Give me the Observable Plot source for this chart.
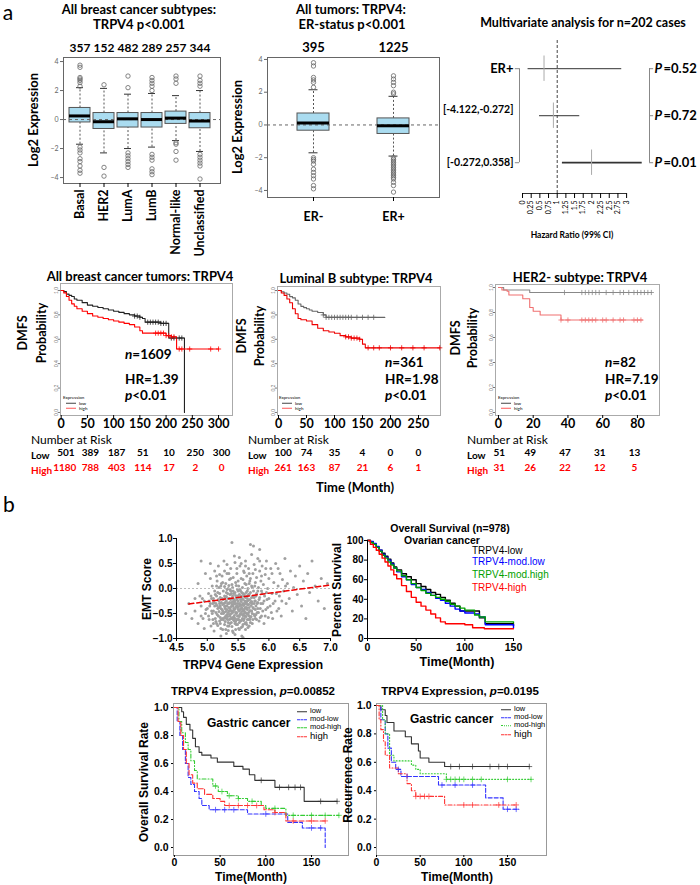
<!DOCTYPE html>
<html><head><meta charset="utf-8">
<script src="https://cdn.jsdelivr.net/npm/d3@7"></script>
<script src="https://cdn.jsdelivr.net/npm/@observablehq/plot@0.6"></script>
<style>
body{margin:0;background:#fff;}
#root{position:relative;width:700px;height:885px;overflow:hidden;background:#fff;}
.t{position:absolute;white-space:nowrap;line-height:1;}
.lg{display:inline-block;width:10px;height:0;vertical-align:middle;margin-right:3px;}
</style></head><body><div id="root"></div>
<script>
// ---------------- DATA ----------------
// Panel a1: subtypes boxplot
const subtypes = ["Basal","HER2","LumA","LumB","Normal-like","Unclassified"];
const subtypeN = [357,152,482,289,257,344];
const subQ1  = [-0.2,-0.65,-0.55,-0.55,-0.3,-0.6];
const subMed = [0.25,-0.15,0.05,0.0,0.1,-0.1];
const subQ3  = [0.8,0.45,0.45,0.45,0.55,0.45];
const subLo  = [-1.7,-2.3,-2.0,-1.9,-1.45,-2.2];
const subHi  = [2.2,2.15,1.75,1.8,1.65,2.0];
const subOut = [
  [3.75,3.6,2.9,2.8,2.7,2.55,2.3,-1.9,-2.1,-2.3,-2.7,-2.9,-3.2,-3.5,-3.7],
  [2.4,-3.3,-3.9],
  [3.0,2.2,-2.3,-2.5,-2.7,-2.9,-3.1,-3.3],
  [2.9,2.7,2.5,2.3,2.0,-2.4,-2.6,-2.8,-3.4,-3.6,-3.8],
  [3.0,2.8,2.5,-1.6,-1.7,-2.2,-2.8],
  [3.0,2.7,2.5,2.3,-2.4,-2.6,-2.8,-3.0,-3.2,-4.1]
];
// Panel a2: ER status boxplot
const erGroups = ["ER-","ER+"];
const erN   = [395,1225];
const erQ1  = [-0.35,-0.55];
const erMed = [0.12,-0.05];
const erQ3  = [0.7,0.4];
const erLo  = [-1.7,-1.9];
const erHi  = [2.15,1.75];
const erOut = [
  [3.8,3.6,2.9,2.75,2.6,2.3,-2.0,-2.1,-2.2,-2.4,-2.7,-2.9,-3.1,-3.3,-3.7,-3.9],
  [3.0,2.8,2.6,2.4,2.0,1.9,-2.0,-2.1,-2.2,-2.3,-2.4,-2.5,-2.6,-2.7,-2.8,-2.9,-3.0,-3.1,-3.2,-3.3,-3.5,-3.7,-4.1]
];
// Panel a3: forest plot
const forestRows = ["ER+","[-4.122,-0.272]","[-0.272,0.358]"];
const forestHR = [0.62,0.89,1.99];
const forestLo = [0.16,0.49,1.15];
const forestHi = [2.86,1.65,3.45];
const forestP  = ["0.52","0.72","0.01"];
const forestTicks = [0,0.25,0.5,0.75,1,1.25,1.5,1.75,2,2.25,2.5,2.75,3];
// KM 1: all breast cancer
const km1LowT = [0,5,10,15,20,25,30,40,50,60,70,80,90,100,110,120,130,140,150,155,160,190,205,235];
const km1LowS = [1,0.99,0.97,0.96,0.95,0.93,0.92,0.90,0.88,0.87,0.86,0.85,0.84,0.83,0.82,0.81,0.80,0.79,0.78,0.77,0.74,0.73,0.61,0];
const km1HighT = [0,5,10,15,20,25,30,40,50,60,70,80,90,100,110,120,130,140,150,155,200,210,220,300];
const km1HighS = [1,0.98,0.95,0.92,0.89,0.87,0.85,0.83,0.81,0.79,0.78,0.77,0.76,0.75,0.74,0.73,0.72,0.70,0.67,0.65,0.63,0.62,0.52,0.52];
const km1LowCens = [140,145,150,165,170,175,180,185,190,195,200,210,215,225,230];
const km1HighCens = [180,185,190,195,200,205,210,215,225,230,245,285,300];
const km1RiskT = [0,50,100,150,200,250,300];
const km1RiskLow = [501,389,187,51,10,250,300];
const km1RiskHigh = [1180,788,403,114,17,2,0];
// KM 2: luminal B
const km2LowT = [0,5,10,15,20,25,30,35,40,45,50,55,60,70,80,85,190];
const km2LowS = [1,0.99,0.98,0.97,0.95,0.94,0.92,0.89,0.87,0.86,0.85,0.84,0.83,0.82,0.80,0.78,0.78];
const km2HighT = [0,5,10,15,20,25,30,35,40,50,60,70,80,90,100,110,120,130,145,150,155,288];
const km2HighS = [1,0.98,0.96,0.93,0.90,0.85,0.81,0.77,0.76,0.75,0.72,0.69,0.67,0.66,0.65,0.63,0.62,0.61,0.60,0.56,0.53,0.53];
const km2LowCens = [80,85,90,95,100,105,110,115,120,125,130,140,150,160,170];
const km2HighCens = [120,125,130,135,140,145,160,170,180,200,220,240,260,288];
const km2RiskT = [0,50,100,150,200,250];
const km2RiskLow = [100,74,35,4,0,0];
const km2RiskHigh = [261,163,87,21,6,1];
// KM 3: HER2-
const km3LowT = [0,3,18,88];
const km3LowS = [1,0.98,0.96,0.96];
const km3HighT = [0,2,5,6,14,18,20,24,36,83];
const km3HighS = [1,0.98,0.97,0.94,0.91,0.84,0.81,0.78,0.74,0.74];
const km3LowCens = [38,48,50,52,54,56,58,62,66,70,72,75,78,80,82,84,86,88];
const km3HighCens = [36,40,48,50,52,54,56,60,62,66,70,72,78,80,82];
const km3RiskT = [0,20,40,60,80];
const km3RiskLow = [51,49,47,31,13];
const km3RiskHigh = [31,26,22,12,5];
// Panel b: EMT scatter [expression, EMT score]
const emtPoints = [
[4.65,-0.5],[4.7,-0.3],[4.75,-0.6],[4.8,-0.2],[4.8,-0.45],[4.85,-0.7],[4.85,0.1],[4.9,-0.35],[4.9,-0.55],[4.9,0.55],[4.88,-0.15],[4.95,-0.8],[4.95,-0.25],[4.97,0.3],[4.97,-0.5],
[5.00,-0.40],[5.02,-0.10],[5.03,-0.62],[5.05,0.20],[5.05,-0.30],[5.06,-0.75],[5.08,-0.50],[5.08,0.05],[5.10,-0.20],[5.10,-0.45],[5.11,-0.85],[5.12,0.35],[5.12,-0.05],[5.13,-0.60],[5.14,-0.30],[5.15,-0.15],[5.15,-0.70],[5.16,0.15],[5.17,-0.40],[5.18,-0.55],[5.18,0.45],[5.19,-0.25],[5.20,-0.10],[5.20,-0.65],[5.21,-0.35],[5.22,0.05],[5.22,-0.80],[5.23,-0.50],[5.24,-0.20],[5.24,0.25],[5.25,-0.45],[5.25,-0.60],[5.26,-0.05],[5.27,-0.30],[5.27,0.55],[5.28,-0.72],[5.28,-0.15],[5.29,-0.40],[5.30,0.10],[5.30,-0.55],[5.31,-0.25],[5.31,-0.90],[5.32,-0.35],[5.32,0.30],[5.33,-0.62],[5.33,-0.10],[5.34,-0.48],[5.34,0.00],[5.35,-0.30],[5.35,-0.75],[5.36,0.18],[5.36,-0.20],[5.37,-0.55],[5.37,-0.40],[5.38,0.40],[5.38,-0.05],[5.39,-0.68],[5.39,-0.28],[5.40,-0.45],[5.40,0.08],[5.41,-0.15],[5.41,-0.85],[5.42,-0.35],[5.42,0.22],[5.43,-0.58],[5.43,-0.22],[5.44,-0.42],[5.44,0.65],[5.45,-0.08],[5.45,-0.70],[5.46,-0.30],[5.46,0.12],[5.47,-0.50],[5.47,-0.18],[5.48,-0.62],[5.48,0.30],[5.49,-0.38],[5.49,-0.02],[5.50,-0.55],[5.50,-0.25],[5.51,0.05],[5.51,-0.80],[5.52,-0.45],[5.52,-0.12],[5.53,0.45],[5.53,-0.32],[5.54,-0.65],[5.54,-0.05],[5.55,-0.40],[5.55,0.20],[5.56,-0.20],[5.56,-0.95],[5.57,-0.52],[5.57,0.02],[5.58,-0.30],[5.58,-0.72],[5.59,0.35],[5.59,-0.15],[5.60,-0.45],[5.60,-0.60],[5.61,0.10],[5.61,-0.25],[5.62,-0.38],[5.62,0.55],[5.63,-0.68],[5.63,-0.08],[5.64,-0.50],[5.64,0.25],[5.65,-0.20],[5.65,-0.42],[5.66,0.00],[5.66,-0.78],[5.67,-0.32],[5.67,0.40],[5.68,-0.55],[5.68,-0.12],[5.69,0.15],[5.69,-0.62],[5.70,-0.28],[5.70,0.88],[5.71,-0.45],[5.72,0.05],[5.72,-0.18],[5.73,-0.70],[5.74,0.30],[5.74,-0.38],[5.75,-0.05],[5.76,-0.52],[5.76,0.48],[5.77,-0.25],[5.78,0.12],[5.78,-0.60],[5.79,-0.35],[5.80,0.22],[5.80,-0.10],[5.81,-0.48],[5.82,0.60],[5.82,-0.28],[5.83,0.02],[5.84,-0.65],[5.85,-0.18],[5.85,0.35],[5.86,-0.40],[5.87,0.15],[5.88,-0.55],[5.88,-0.05],[5.89,0.45],[5.90,-0.30],[5.91,0.08],[5.92,-0.70],[5.93,-0.15],[5.94,0.28],[5.95,-0.42],[5.96,0.55],[5.97,-0.22],[5.98,0.00],[5.99,-0.58],[6.00,0.20],[6.02,-0.35],[6.03,0.40],[6.05,-0.10],[6.06,-0.60],[6.08,0.12],[6.10,-0.25],[6.11,0.50],[6.13,-0.45],[6.15,0.05],[6.17,-0.15],[6.18,0.30],[6.20,-0.55],[6.22,0.18],[6.24,-0.05],[6.26,0.60],[6.28,-0.30],[6.30,0.10],[6.33,-0.20],[6.35,0.35],[6.38,-0.45],[6.40,0.02],[6.43,0.25],[6.46,-0.12],[6.50,0.45],[6.53,-0.35],[6.56,0.15],[6.60,-0.60],[6.63,0.30],[6.66,-0.08],[6.70,0.55],[6.75,0.05],[6.80,-0.25],[6.85,0.20],[6.90,-0.40],[6.95,0.10],[5.75,0.85],[5.40,0.92],[5.85,0.78],[5.58,-0.98],[5.22,-0.95],[5.05,0.5],
[5.16,-0.52],[5.19,-0.38],[5.21,-0.58],[5.23,-0.28],[5.26,-0.62],[5.27,-0.48],[5.29,-0.18],[5.30,-0.35],[5.32,-0.52],[5.33,-0.75],[5.35,-0.45],[5.36,-0.62],[5.38,-0.22],[5.39,-0.50],[5.40,-0.32],[5.41,-0.58],[5.42,-0.05],[5.43,-0.40],[5.44,-0.65],[5.45,-0.25],[5.46,-0.48],[5.47,-0.72],[5.48,-0.35],[5.49,-0.15],[5.50,-0.42],[5.51,-0.62],[5.52,-0.30],[5.53,-0.52],[5.54,-0.22],[5.55,-0.78],[5.56,-0.38],[5.57,-0.60],[5.58,-0.10],[5.59,-0.45],[5.60,-0.32],[5.61,-0.55],[5.62,-0.70],[5.63,-0.28],[5.64,-0.38],[5.65,-0.62],[5.24,-0.42],[5.28,-0.58],[5.31,-0.08],[5.34,-0.68],[5.37,-0.12],[5.40,-0.60],[5.43,-0.30],[5.46,-0.82],[5.49,-0.55],[5.52,-0.68],[5.55,-0.15],[5.58,-0.42],[5.61,-0.40],[5.64,-0.15],[5.67,-0.48],[5.70,-0.58],[5.73,-0.30],[5.76,-0.18],[5.79,-0.52],[5.82,-0.40],[5.20,-0.30],[5.18,-0.22],[5.14,-0.48],[5.12,-0.35],[5.09,-0.62],[5.07,-0.20],[5.45,-0.92],[5.50,0.15],[5.35,0.30],[5.60,0.32],[5.25,0.12],[5.70,0.20],[5.15,0.05],[5.55,0.50],[5.42,-0.88],[5.62,-0.82],[5.30,-0.82],[5.68,-0.75],[5.72,-0.45],[5.78,-0.25],
[5.11,-0.28],[5.13,-0.12],[5.14,-0.66],[5.16,-0.34],[5.17,-0.08],[5.17,-0.74],[5.19,-0.46],[5.19,0.02],[5.21,-0.18],[5.21,-0.70],[5.22,-0.40],[5.23,-0.62],[5.23,0.10],[5.25,-0.32],[5.25,-0.82],[5.26,-0.22],[5.26,-0.50],[5.28,-0.36],[5.28,0.04],[5.29,-0.66],[5.29,-0.28],[5.30,-0.46],[5.31,-0.60],[5.31,-0.16],[5.32,-0.42],[5.32,-0.02],[5.33,-0.30],[5.33,-0.56],[5.34,-0.20],[5.34,-0.84],[5.35,-0.38],[5.35,0.06],[5.36,-0.52],[5.36,-0.28],[5.37,-0.70],[5.37,-0.02],[5.38,-0.44],[5.38,-0.60],[5.39,-0.10],[5.39,-0.36],[5.40,-0.76],[5.40,-0.20],[5.41,-0.48],[5.41,0.02],[5.42,-0.62],[5.42,-0.26],[5.43,-0.44],[5.43,-0.10],[5.44,-0.54],[5.44,-0.30],[5.45,-0.40],[5.45,-0.60],[5.46,-0.14],[5.46,-0.66],[5.47,-0.36],[5.47,0.06],[5.48,-0.48],[5.48,-0.22],[5.49,-0.72],[5.49,-0.30],[5.50,-0.62],[5.50,-0.05],[5.51,-0.36],[5.51,-0.18],[5.52,-0.56],[5.52,-0.82],[5.53,-0.42],[5.53,-0.02],[5.54,-0.34],[5.54,-0.50],[5.55,-0.26],[5.55,-0.64],[5.56,-0.46],[5.56,-0.08],[5.57,-0.32],[5.57,-0.76],[5.58,-0.54],[5.58,-0.22],[5.59,-0.64],[5.59,-0.34],[5.60,-0.12],[5.60,-0.50],[5.61,-0.70],[5.61,-0.30],[5.62,-0.48],[5.62,-0.18],[5.63,-0.56],[5.63,0.08],[5.64,-0.26],[5.64,-0.72],[5.65,-0.32],[5.65,-0.05],[5.66,-0.52],[5.66,-0.24],[5.67,-0.62],[5.67,-0.12],[5.68,-0.38],[5.68,0.10],[5.69,-0.44],[5.69,-0.22],[5.70,-0.68],[5.70,-0.08],[5.71,-0.34],[5.71,-0.56],[5.72,-0.26],[5.73,-0.50],[5.73,0.02],[5.74,-0.62],[5.74,-0.16],[5.75,-0.40],[5.76,-0.30],[5.77,-0.55],[5.77,0.05],[5.78,-0.42],[5.79,-0.15],[5.80,-0.62],[5.81,-0.30],[5.82,-0.05],[5.83,-0.48],[5.84,-0.22],[5.86,-0.58],[5.87,-0.30],[5.89,-0.10],[5.90,-0.45],[5.92,-0.25],[5.94,-0.55],[5.96,-0.08],[5.98,-0.38],[6.00,-0.20],[6.04,-0.48],[6.07,-0.30],[6.12,-0.10],[6.16,-0.40],[6.21,-0.25],[6.27,0.05],[5.02,-0.55],[5.04,-0.35],[5.06,-0.15],[5.07,-0.45],[5.09,-0.30],[5.10,-0.70],[5.03,-0.25],[4.98,-0.42],[4.93,-0.60],[4.92,-0.20],[5.15,0.25],[5.28,0.35],[5.38,0.20],[5.48,0.40],[5.58,0.18],[5.68,0.30],[5.78,0.38],[5.88,0.25],[5.95,0.40],[5.45,0.52],[5.62,0.45],[5.32,0.48],[5.20,0.28],[5.85,0.55],[6.05,0.30],[6.15,0.40],[5.52,0.62],[5.72,0.68]
];
const emtFitX = [4.7,7.0];
const emtFitY = [-0.31,0.07];
// Ovarian OS (percent)
const ovT = [0,3,6,9,12,15,18,21,24,27,30,35,40,45,50,55,60,65,70,75,80,85,90,95,100,110,115,121,150];
const ovLow     = [100,98,96,93,90,87,84,81,77,73,70,66,63,60,56,53,50,47,45,42,39,36,33,28,28,28,21,15,13];
const ovModLow  = [100,99,97,94,90,86,83,80,76,72,68,63,60,55,52,50,47,44,41,39,36,33,30,28,26,25,22,14,11];
const ovModHigh = [100,98,96,93,89,85,82,78,75,72,69,64,60,56,52,49,46,44,42,40,38,35,33,31,29,24,22,17,16];
const ovHighT = [0,3,6,9,12,15,18,21,24,27,30,35,40,45,50,55,60,65,70,75,80,90,100,108,120,150];
const ovHigh  = [100,96,93,90,86,82,78,74,70,65,61,54,48,42,37,33,29,25,21,17,15,15,14,11,10,10];
const ovNames = ["TRPV4-low","TRPV4-mod.low","TRPV4-mod.high","TRPV4-high"];
// Gastric 1: overall survival
const g1LowT = [0,5,8,10,13,17,20,23,27,30,40,47,60,65,75,82,88,108,110,140,142,178];
const g1LowS = [1,1,0.97,0.93,0.88,0.84,0.78,0.72,0.68,0.66,0.64,0.61,0.61,0.58,0.56,0.52,0.48,0.48,0.43,0.43,0.33,0.33];
const g1MlT = [0,3,6,9,12,15,18,22,27,30,38,80,122,124,140,164,165];
const g1MlS = [1,0.9,0.8,0.7,0.6,0.5,0.45,0.4,0.35,0.3,0.27,0.24,0.24,0.18,0.14,0.14,0];
const g1MhT = [0,5,8,12,15,18,22,25,42,48,58,70,80,95,100,122,180];
const g1MhS = [1,0.9,0.82,0.75,0.7,0.62,0.55,0.49,0.44,0.4,0.37,0.35,0.33,0.3,0.28,0.23,0.23];
const g1HiT = [0,4,7,10,13,16,20,25,33,42,50,55,98,110,122,165];
const g1HiS = [1,0.9,0.8,0.7,0.6,0.52,0.46,0.42,0.38,0.35,0.33,0.3,0.27,0.25,0.19,0.19];
// Gastric 2: recurrence
const g2LowT = [0,5,10,12,20,33,40,48,50,60,78,175];
const g2LowS = [1,0.97,0.93,0.88,0.82,0.78,0.73,0.68,0.63,0.6,0.57,0.57];
const g2MlT = [0,5,10,13,17,22,28,71,125,145,163];
const g2MlS = [1,0.9,0.8,0.7,0.6,0.55,0.5,0.44,0.35,0.27,0.27];
const g2MhT = [0,7,10,15,20,40,45,50,80,177];
const g2MhS = [1,0.9,0.8,0.65,0.61,0.58,0.55,0.52,0.48,0.48];
const g2HiT = [0,3,5,8,10,15,25,35,40,45,78,160];
const g2HiS = [1,0.9,0.83,0.75,0.65,0.56,0.52,0.45,0.4,0.36,0.3,0.3];
const gNames = ["low","mod-low","mod-high","high"];

// ---------------- HELPERS ----------------
const FA = "Lato, 'Open Sans', sans-serif";
const FB = "'Liberation Sans', Arial, sans-serif";
const root = document.getElementById("root");

function mount(opts, frame, m, font) {
  const [fx0, fy0, fx1, fy1] = frame;
  const [t, r, b, l] = m;
  const svg = Plot.plot({
    ...opts,
    width: fx1 - fx0 + l + r,
    height: fy1 - fy0 + t + b,
    marginTop: t, marginRight: r, marginBottom: b, marginLeft: l,
    style: {fontFamily: font || FA, fontSize: "10px", background: "none", overflow: "visible", maxWidth: "none"}
  });
  svg.style.position = "absolute";
  svg.style.left = (fx0 - l) + "px";
  svg.style.top = (fy0 - t) + "px";
  root.appendChild(svg);
  return svg;
}
function T(html, x, y, o = {}) {
  const d = document.createElement("div");
  d.className = "t";
  d.innerHTML = html;
  const a = o.anchor || "middle";
  const tx = a === "start" ? "0" : a === "end" ? "-100%" : "-50%";
  d.style.left = x + "px"; d.style.top = y + "px";
  d.style.fontFamily = o.font || FA;
  d.style.fontSize = (o.size || 12) + "px";
  d.style.fontWeight = o.weight || "bold";
  d.style.color = o.color || "#000";
  d.style.transform = `translate(${tx},-50%)` + (o.rotate ? ` rotate(${o.rotate}deg)` : "");
  root.appendChild(d);
}
function stepAt(T_, S_, t) { let v = S_[0]; for (let i = 0; i < T_.length; i++) if (T_[i] <= t) v = S_[i]; return v; }
const series = (T_, S_) => T_.map((t, i) => ({t, s: S_[i]}));

// ---------------- BOXPLOTS ----------------
function boxplot(cats, counts, Q1, MED, Q3, LO, HI, OUT, cfg) {
  const rows = cats.map((c, i) => ({c, q1: Q1[i], med: MED[i], q3: Q3[i], lo: LO[i], hi: HI[i]}));
  const pts = cats.flatMap((c, i) => OUT[i].map(v => ({c, v})));
  const ci = cfg.capInset;
  mount({
    x: {type: "band", domain: cats, ...cfg.band},
    y: {domain: cfg.yDom},
    marks: [
      Plot.ruleX(rows, {x: "c", y1: "q3", y2: "hi", stroke: "#555", strokeDasharray: "2,2"}),
      Plot.ruleX(rows, {x: "c", y1: "lo", y2: "q1", stroke: "#555", strokeDasharray: "2,2"}),
      Plot.tickY(rows, {x: "c", y: "hi", stroke: "#333", insetLeft: ci, insetRight: ci}),
      Plot.tickY(rows, {x: "c", y: "lo", stroke: "#333", insetLeft: ci, insetRight: ci}),
      Plot.barY(rows, {x: "c", y1: "q1", y2: "q3", fill: "#aadcf0", stroke: "#555", strokeWidth: 1}),
      Plot.ruleY([0], {stroke: "#666", strokeDasharray: "3,3"}),
      Plot.tickY(rows, {x: "c", y: "med", stroke: "#000", strokeWidth: 3}),
      Plot.dot(pts, {x: "c", y: "v", r: 2.2, stroke: "#666", strokeWidth: 0.8}),
      Plot.frame({stroke: "#666"}),
      Plot.axisY({ticks: [-4, -2, 0, 2, 4], tickSize: 3, tickPadding: 2, fontSize: 7, color: "#666", label: null}),
      Plot.axisX({anchor: "top", tickSize: 0, tickPadding: 6, tickFormat: d => String(counts[cats.indexOf(d)]), fontSize: cfg.nFont, fontWeight: "bold", label: null}),
      Plot.axisX({anchor: "bottom", tickSize: 4, tickPadding: cfg.xPad, tickRotate: cfg.rotate, fontSize: cfg.xFont, fontWeight: "bold", label: null})
    ]
  }, cfg.frame, cfg.margin);
}
boxplot(subtypes, subtypeN, subQ1, subMed, subQ3, subLo, subHi, subOut, {
  band: {padding: 0.14, insetLeft: 0, insetRight: 4.8},
  yDom: [-4.41, 4.28], capInset: 7, xPad: 2, rotate: -90, xFont: 12.5, nFont: 12,
  frame: [63, 57, 220, 183], margin: [20, 5, 50, 20]
});
boxplot(erGroups, erN, erQ1, erMed, erQ3, erLo, erHi, erOut, {
  band: {paddingInner: 0.6, paddingOuter: 0.3, insetLeft: 6, insetRight: 6},
  yDom: [-4.43, 4.12], capInset: 11.5, xPad: 11, rotate: 0, xFont: 12.5, nFont: 13,
  frame: [267, 57, 439, 197], margin: [20, 5, 35, 20]
});

// ---------------- FOREST ----------------
{
  const rows = forestRows.map((r, i) => ({r, i, hr: forestHR[i], lo: forestLo[i], hi: forestHi[i], p: forestP[i]}));
  const xd = [-0.087, 3.66], yd = [-0.6, 2.655];
  mount({
    x: {domain: xd}, y: {domain: yd, reverse: true, axis: null},
    marks: [
      Plot.ruleX([1], {stroke: "#444", strokeDasharray: "3,2"}),
      Plot.ruleY(rows, {y: "i", x1: "lo", x2: "hi", stroke: "#333", strokeWidth: d => d.i === 2 ? 1.8 : 1}),
      Plot.ruleX(rows, {x: "hr", y1: d => d.i - 0.27, y2: d => d.i + 0.27, stroke: "#aaa"}),
      Plot.ruleX([xd[0]], {y1: 0, y2: 2, stroke: "#888"}),
      Plot.ruleY([0, 2], {y: d => d, x1: xd[0], x2: xd[0] - 0.12, stroke: "#888"}),
      Plot.ruleX([xd[1]], {y1: 0, y2: 2, stroke: "#888"}),
      Plot.ruleY([0, 1, 2], {y: d => d, x1: xd[1], x2: xd[1] + 0.12, stroke: "#888"}),
      Plot.text(rows, {filter: d => d.i === 0, x: xd[0], y: "i", text: "r", textAnchor: "end", dx: -6, fontSize: 13, fontWeight: "bold"}),
      Plot.text(rows, {filter: d => d.i === 1, x: xd[0], y: "i", text: "r", textAnchor: "end", dx: -6, dy: -6, fontSize: 10.5, fontWeight: "bold"}),
      Plot.text(rows, {filter: d => d.i === 2, x: xd[0], y: "i", text: "r", textAnchor: "end", dx: -6, fontSize: 10.5, fontWeight: "bold"}),
      Plot.text(rows, {x: xd[1], y: "i", text: () => "P", textAnchor: "start", dx: 5, fontSize: 13, fontWeight: "bold", fontStyle: "italic"}),
      Plot.text(rows, {x: xd[1], y: "i", text: d => "=" + d.p, textAnchor: "start", dx: 14, fontSize: 13, fontWeight: "bold"}),
      Plot.ruleY([yd[1]], {x1: forestTicks[0], x2: forestTicks[forestTicks.length - 1], stroke: "#333"}),
      Plot.axisX({ticks: forestTicks, tickFormat: d => String(d), tickRotate: -90, tickSize: 5, tickPadding: 2, fontSize: 7, label: null})
    ]
  }, [519, 40, 649, 193], [10, 51, 27, 89]);
}

// ---------------- KM (breast) ----------------
function km(c) {
  const low = series(c.lowT, c.lowS), high = series(c.highT, c.highS);
  const lc = c.lowCens.map(t => ({t, s: stepAt(c.lowT, c.lowS, t)}));
  const hc = c.highCens.map(t => ({t, s: stepAt(c.highT, c.highS, t)}));
  const risk = c.riskT.map((t, i) => ({t, lo: String(c.riskLow[i]), hi: String(c.riskHigh[i]), first: i === 0}));
  const rf = 10;
  mount({
    x: {domain: c.xDom}, y: {domain: c.yDom},
    marks: [
      Plot.frame({stroke: "#aaa"}),
      Plot.line(low, {x: "t", y: "s", curve: "step-after", stroke: c.lowColor, strokeWidth: 1.1}),
      Plot.line(high, {x: "t", y: "s", curve: "step-after", stroke: c.highColor, strokeWidth: 1.1}),
      Plot.dot(lc, {x: "t", y: "s", symbol: "plus", r: 1.8, stroke: c.lowColor, strokeWidth: 0.8}),
      Plot.dot(hc, {x: "t", y: "s", symbol: "plus", r: 1.8, stroke: c.highColor, strokeWidth: 0.8}),
      Plot.axisX({ticks: c.xTicks, tickSize: 3, tickPadding: 1, fontSize: 12.5, fontWeight: "bold", label: null}),
      Plot.axisY({ticks: [0, 0.2, 0.4, 0.6, 0.8, 1], tickFormat: d3.format(".1f"), tickSize: 2, tickPadding: 1, tickRotate: -90, fontSize: 5, color: "#777", label: null}),
      Plot.text(risk.filter(d => d.first), {x: "t", text: "lo", frameAnchor: "bottom", dy: 40, dx: c.firstDx, textAnchor: "start", fontSize: rf, fontWeight: "bold"}),
      Plot.text(risk.filter(d => !d.first), {x: "t", text: "lo", frameAnchor: "bottom", dy: 40, dx: c.restDx, fontSize: rf, fontWeight: "bold"}),
      Plot.text(risk.filter(d => d.first), {x: "t", text: "hi", frameAnchor: "bottom", dy: 55, dx: c.firstDx2, textAnchor: "start", fontSize: rf, fontWeight: "bold", fill: "#f00"}),
      Plot.text(risk.filter(d => !d.first), {x: "t", text: "hi", frameAnchor: "bottom", dy: 55, dx: c.restDx, fontSize: rf, fontWeight: "bold", fill: "#f00"})
    ]
  }, c.frame, [4, 6, 62, 12]);
}
km({lowT: km1LowT, lowS: km1LowS, highT: km1HighT, highS: km1HighS, lowCens: km1LowCens, highCens: km1HighCens,
    riskT: km1RiskT, riskLow: km1RiskLow, riskHigh: km1RiskHigh, xDom: [-1.3, 326.6], yDom: [-0.025, 1.057],
    xTicks: [0, 50, 100, 150, 200, 250, 300], lowColor: "#222", highColor: "#f00", frame: [60, 283, 232, 415], firstDx: -4, firstDx2: -8, restDx: 3});
km({lowT: km2LowT, lowS: km2LowS, highT: km2HighT, highS: km2HighS, lowCens: km2LowCens, highCens: km2HighCens,
    riskT: km2RiskT, riskLow: km2RiskLow, riskHigh: km2RiskHigh, xDom: [-1.8, 289.3], yDom: [-0.025, 1.033],
    xTicks: [0, 50, 100, 150, 200, 250], lowColor: "#666", highColor: "#e00", frame: [277, 286, 440, 415], firstDx: -4, firstDx2: -4, restDx: 0});
km({lowT: km3LowT, lowS: km3LowS, highT: km3HighT, highS: km3HighS, lowCens: km3LowCens, highCens: km3HighCens,
    riskT: km3RiskT, riskLow: km3RiskLow, riskHigh: km3RiskHigh, xDom: [-1.7, 92.7], yDom: [-0.024, 1.024],
    xTicks: [0, 20, 40, 60, 80], lowColor: "#888", highColor: "#f07070", frame: [495, 284, 659, 415], firstDx: -5, firstDx2: -5, restDx: -3});

// ---------------- Panel b: scatter ----------------
mount({
  x: {domain: [4.5, 7.0]}, y: {domain: [-1, 1]},
  marks: [
    Plot.dot(emtPoints, {x: d => d[0], y: d => d[1], r: 1.5, fill: "#a0a0a0", stroke: null}),
    Plot.ruleY([0], {stroke: "#bbb", strokeDasharray: "2,2"}),
    Plot.line(emtFitX.map((x, i) => ({x, y: emtFitY[i]})), {x: "x", y: "y", stroke: "#e00", strokeWidth: 1.5, strokeDasharray: "5,3"}),
    Plot.frame({anchor: "left", stroke: "#000"}),
    Plot.frame({anchor: "bottom", stroke: "#000"}),
    Plot.axisX({ticks: [4.5, 5, 5.5, 6, 6.5, 7], tickFormat: d3.format(".1f"), tickSize: 3, tickPadding: 2, fontSize: 10.5, fontWeight: "bold", label: null}),
    Plot.axisY({ticks: [-1, -0.5, 0, 0.5, 1], tickFormat: d3.format(".1f"), tickSize: 3, tickPadding: 1, fontSize: 10, fontWeight: "bold", label: null})
  ]
}, [176, 538, 330, 638], [6, 6, 22, 28], FB);

// Ovarian
{
  const ovColors = ["#000", "#0000ff", "#00a000", "#ff0000"];
  const ovData = [series(ovT, ovLow), series(ovT, ovModLow), series(ovT, ovModHigh), series(ovHighT, ovHigh)];
  mount({
    x: {domain: [0, 150]}, y: {domain: [0, 100]},
    marks: [
      ...ovData.map((d, k) => Plot.line(d, {x: "t", y: "s", curve: "step-after", stroke: ovColors[k], strokeWidth: 1.4})),
      Plot.frame({anchor: "left", stroke: "#000"}),
      Plot.frame({anchor: "bottom", stroke: "#000"}),
      Plot.axisX({ticks: [0, 50, 100, 150], tickSize: 3, tickPadding: 2, fontSize: 10.5, fontWeight: "bold", label: null}),
      Plot.axisY({ticks: [0, 20, 40, 60, 80, 100], tickSize: 3, tickPadding: 1, fontSize: 10, fontWeight: "bold", label: null})
    ]
  }, [367, 540, 513, 638], [6, 6, 22, 28], FB);
  ovNames.forEach((n, k) => T(n, 472, [551, 562, 575, 588][k], {anchor: "start", size: 10, weight: "normal", font: FB, color: ovColors[k]}));
}

// Gastric
const gColors = ["#333", "#3333ff", "#33cc33", "#ff3333"];
function gastric(curves, dashes, frame, xDom, yDom, cens) {
  mount({
    x: {domain: xDom}, y: {domain: yDom},
    marks: [
      Plot.frame({stroke: "#999"}),
      ...curves.map((d, k) => Plot.line(d, {x: "t", y: "s", curve: "step-after", stroke: gColors[k], strokeWidth: 1.1, strokeDasharray: dashes[k]})),
      ...cens.map((cs, k) => Plot.dot(cs.map(t => ({t, s: stepAt(curves[k].map(d => d.t), curves[k].map(d => d.s), t)})),
        {x: "t", y: "s", symbol: "plus", r: 2, stroke: gColors[k], strokeWidth: 0.7})),
      Plot.axisX({ticks: [0, 50, 100, 150], tickSize: 2, tickPadding: 1, fontSize: 10.5, fontWeight: "bold", label: null}),
      Plot.axisY({ticks: [0, 0.2, 0.4, 0.6, 0.8, 1], tickFormat: d3.format(".1f"), tickSize: 2, tickPadding: 3, fontSize: 10.5, fontWeight: "bold", label: null})
    ]
  }, frame, [4, 6, 20, 28], FB);
}
const g1Cens = [[95,115,125,132,138,160,178],[45,55,65,100,150,160],[45,52,60,70,85,110,130,150,165,180],[60,70,80,90,110,130,150,165]];
const g2Cens = [[85,95,110,130,140,150,175],[25,35,75,90,110,150,160],[80,85,90,95,100,110,120,150,177],[45,50,55,60,100,110,140,160]];
gastric([series(g1LowT, g1LowS), series(g1MlT, g1MlS), series(g1MhT, g1MhS), series(g1HiT, g1HiS)],
  [null, "4,2", "4,2,1,2", "5,2"], [173, 703, 348, 855], [-1, 190.5], [-0.057, 1.029], g1Cens);
gastric([series(g2LowT, g2LowS), series(g2MlT, g2MlS), series(g2MhT, g2MhS), series(g2HiT, g2HiS)],
  [null, "4,2", "1,2", "4,2,1,2"], [376, 703, 546, 855], [0, 194.7], [-0.056, 1.014], g2Cens);

// ---------------- TEXT ----------------
T("a", 8, 11, {size: 21, weight: "normal"});
T("All breast cancer subtypes:", 139, 9, {size: 13});
T("TRPV4 p&lt;0.001", 139, 24, {size: 13});
T("Log2 Expression", 33, 120, {size: 13, rotate: -90});
T("All tumors: TRPV4:", 351, 9, {size: 13});
T("ER-status p&lt;0.001", 352, 24, {size: 13});
T("Log2 Expression", 237, 127, {size: 13, rotate: -90});
T("Multivariate analysis for n=202 cases", 583, 23, {size: 12.5});
T("Hazard Ratio (99% CI)", 572, 235, {size: 8.5});

const kmText = [
  {title: "All breast cancer tumors: TRPV4", tx: 140, ty: 276, d: 23, p: 42, ly: 333, nx: 125, n: "1609", hr: "1.39", rx: 31, rl: 63},
  {title: "Luminal B subtype: TRPV4", tx: 356, ty: 278, d: 242, p: 260, ly: 336, nx: 385, n: "361", hr: "1.98", rx: 248, rl: 279},
  {title: "HER2- subtype: TRPV4", tx: 580, ty: 277, d: 456, p: 473, ly: 338, nx: 605, n: "82", hr: "7.19", rx: 467, rl: 498}
];
kmText.forEach((k, i) => {
  T(k.title, k.tx, k.ty, {size: 13});
  T("DMFS", k.d, k.ly, {size: 12.5, rotate: -90});
  T("Probability", k.p, k.ly, {size: 12.5, rotate: -90});
  T("<i>n</i>=" + k.n, k.nx, i === 0 ? 355 : 363, {anchor: "start", size: 13.5});
  T("HR=" + k.hr, k.nx, 380, {anchor: "start", size: 13.5});
  T("<i>p</i>&lt;0.01", k.nx, 396, {anchor: "start", size: 13.5});
  T("Number at Risk", k.rx, 440, {anchor: "start", size: 12, weight: "normal"});
  T("Low", k.rx, 455, {anchor: "start", size: 10});
  T("High", k.rx, 470, {anchor: "start", size: 10, color: "#f00"});
  T("Expression", k.rl, 398, {anchor: "start", size: 4.5, weight: "normal"});
  T('<span class="lg" style="border-top:1px solid #444"></span>low', k.rl + 3, 404, {anchor: "start", size: 4.5, weight: "normal"});
  T('<span class="lg" style="border-top:1px solid #f55"></span>high', k.rl + 3, 409, {anchor: "start", size: 4.5, weight: "normal"});
});
T("Time (Month)", 355, 487, {size: 13});

T("b", 9, 503, {size: 21, weight: "normal"});
T("EMT Score", 147, 589, {size: 12, rotate: -90, font: FB});
T("TRPV4 Gene Expression", 253, 665, {size: 12, font: FB});
T("Overall Survival (n=978)", 450, 528, {size: 10.5, font: FB});
T("Ovarian cancer", 442, 540, {size: 10.5, font: FB});
T("Percent Survival", 337, 590, {size: 12, rotate: -90, font: FB});
T("Time(Month)", 457, 662, {size: 12.5, font: FB});

T("TRPV4 Expression, <i>p</i>=0.00852", 253, 692, {size: 11.5, font: FB});
T("TRPV4 Expression, <i>p</i>=0.0195", 460, 692, {size: 11.5, font: FB});
T("Gastric cancer", 207, 723, {anchor: "start", size: 12, font: FB});
T("Gastric cancer", 410, 719, {anchor: "start", size: 12, font: FB});
T("Overall Survival Rate", 144, 782, {size: 12, rotate: -90, font: FB});
T("Recurrence Rate", 348, 775, {size: 12, rotate: -90, font: FB});
T("Time(Month)", 251, 877, {size: 12, font: FB});
T("Time(Month)", 457, 877, {size: 12, font: FB});
const gl1 = ["solid", "dashed", "dashed", "dashed"], gl2 = ["solid", "dashed", "dotted", "dashed"];
gNames.forEach((n, k) => {
  T(`<span class="lg" style="border-top:1px ${gl1[k]} ${gColors[k]}"></span>${n}`, 297, [711, 719, 727, 736][k], {anchor: "start", size: k === 3 ? 9.5 : 7.5, weight: "normal", font: FB});
  T(`<span class="lg" style="border-top:1px ${gl2[k]} ${gColors[k]}"></span>${n}`, 501, [709, 717, 725, 734][k], {anchor: "start", size: k === 3 ? 9.5 : 7.5, weight: "normal", font: FB});
});
</script></body></html>
